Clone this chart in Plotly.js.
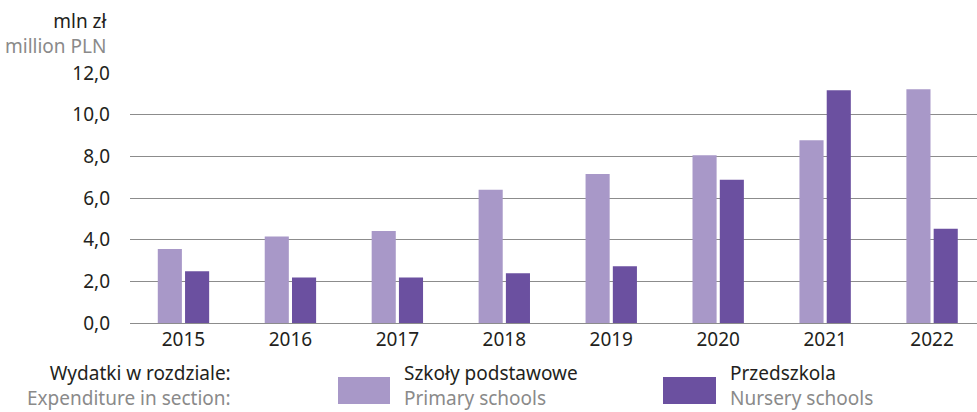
<!DOCTYPE html>
<html><head><meta charset="utf-8">
<script src="https://cdn.plot.ly/plotly-3.0.1.min.js"></script>
<style>body{margin:0;background:#fff}#chart{width:977px;height:412px}</style>
</head><body><div id="chart"></div>
<script>
const years = ['2015','2016','2017','2018','2019','2020','2021','2022'];
const primarySchools = [3.55, 4.15, 4.42, 6.40, 7.15, 8.05, 8.77, 11.22];
const nurserySchools = [2.48, 2.19, 2.19, 2.39, 2.72, 6.88, 11.17, 4.53];
const yTicks = [0, 2, 4, 6, 8, 10, 12];
const yTickText = ['0,0', '2,0', '4,0', '6,0', '8,0', '10,0', '12,0'];

const W = 977, H = 412, L = 130, R = 0, T = 73, B = 89;
const pw = W - L - R, ph = H - T - B;
const px = x => (x - L) / pw;
const py = y => (H - B - y) / ph;
const FONT = 'Noto Sans, sans-serif';
const DARK = '#231f20', GREY = '#8a8a8a';
const C1 = '#a898c8', C2 = '#6b50a0';
const FS = 19;

const traces = [
  {type:'bar', x: years, y: primarySchools, marker:{color:C1}, name:'Szkoły podstawowe', hoverinfo:'none'},
  {type:'bar', x: years, y: nurserySchools, marker:{color:C2}, name:'Przedszkola', hoverinfo:'none'}
];

function txt2(x, y, line1, line2, anchor) {
  return {xref:'paper', yref:'paper', x:px(x), y:py(y),
    text: line1 + '<br><span style="color:' + GREY + '">' + line2 + '</span>',
    showarrow:false, align:anchor, xanchor:anchor, yanchor:'bottom', borderpad:0,
    font:{family:FONT, size:FS, color:DARK}};
}

const annotations = [
  {xref:'paper', yref:'paper', x:px(110), y:py(33),
    text:'mln zł<br><span style="color:' + GREY + '">million PLN</span>',
    showarrow:false, align:'right', xanchor:'right', yanchor:'middle',
    font:{family:FONT, size:FS, color:DARK}},
  txt2(232, 412, 'Wydatki w rozdziale:', 'Expenditure in section:', 'right'),
  txt2(403, 412, 'Szkoły podstawowe', 'Primary schools', 'left'),
  txt2(729, 412, 'Przedszkola', 'Nursery schools', 'left')
];
const shapes = [
  {type:'rect', xref:'paper', yref:'paper', x0:px(338), x1:px(390), y0:py(404), y1:py(377), fillcolor:C1, line:{width:0}},
  {type:'rect', xref:'paper', yref:'paper', x0:px(663), x1:px(716), y0:py(404), y1:py(377), fillcolor:C2, line:{width:0}}
];

const layout = {
  width: W, height: H,
  margin: {l:L, r:R, t:T, b:B, pad:0},
  paper_bgcolor:'#fff', plot_bgcolor:'#fff',
  showlegend:false,
  barmode:'group', bargap:0.49, bargroupgap:0.116,
  font:{family:FONT, size:FS, color:DARK},
  xaxis:{type:'category', range:[-0.5, 7.42], showgrid:false, zeroline:false,
    showline:false, ticks:'', tickfont:{family:FONT, size:FS, color:DARK}, ticklabelstandoff:3, fixedrange:true},
  yaxis:{range:[0, 12], tickvals:yTicks, ticktext:yTickText, showgrid:true, gridcolor:'#8c8c8c', gridwidth:1,
    zeroline:true, zerolinecolor:'#8c8c8c', zerolinewidth:1, showline:false, ticks:'',
    tickfont:{family:FONT, size:FS, color:DARK}, ticklabelstandoff:19, fixedrange:true},
  annotations: annotations,
  shapes: shapes
};
Plotly.newPlot('chart', traces, layout, {displayModeBar:false, staticPlot:true});
</script></body></html>
